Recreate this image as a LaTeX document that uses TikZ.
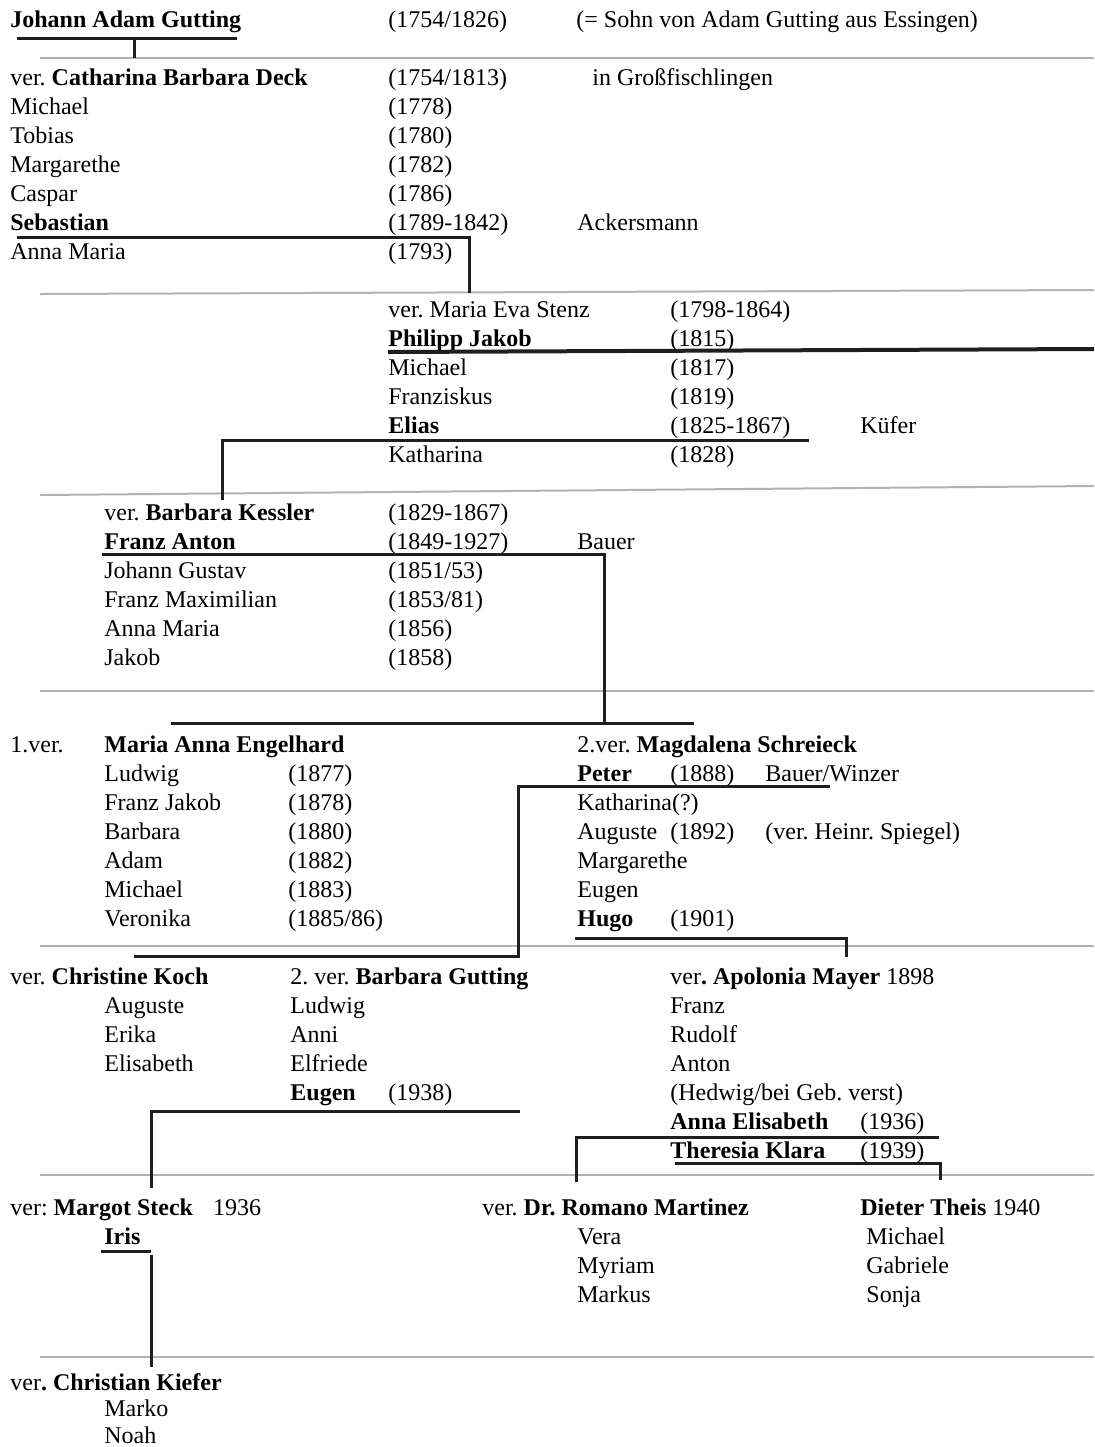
\documentclass[tikz,border=0pt]{standalone}
\usepackage{fontspec}
\setmainfont{Liberation Serif}
\frenchspacing

\tikzset{
  txt/.style={anchor=base west, inner sep=0pt},
  kin/.style={line width=1.5pt, black!88},
  rule/.style={line width=1pt, black!30},
}

\begin{document}
\begin{tikzpicture}[x=0.5pt, y=-0.5pt, font=\fontsize{12}{14}\selectfont]
  \useasboundingbox (0,0) rectangle (1094,1447);

  % generation rules
  \draw[rule] (40,58) -- (1094,58);
  \draw[rule] (40,294) -- (1094,290);
  \draw[rule] (40,495) -- (1094,486);
  \draw[rule] (40,691) -- (1094,691);
  \draw[rule] (40,946) -- (1094,946);
  \draw[rule] (40,1175) -- (1094,1175);
  \draw[rule] (40,1357) -- (1094,1357);

  % Johann Adam
  \node[txt] (johann) at (10,27) {\textbf{Johann Adam Gutting}};
  \node[txt] (johann-y) at (388,27) {(1754/1826)};
  \node[txt] (johann-note) at (576,27) {(= Sohn von Adam Gutting aus Essingen)};

  \node[txt] (deck) at (10,85) {ver. \textbf{Catharina Barbara Deck}};
  \node[txt] (deck-y) at (388,85) {(1754/1813)};
  \node[txt] (deck-note) at (592,85) {in Großfischlingen};
  \foreach \n/\y [count=\i] in {Michael/(1778), Tobias/(1780), Margarethe/(1782),
      Caspar/(1786), \textbf{Sebastian}/(1789-1842), Anna Maria/(1793)} {
    \node[txt] (deck-k\i) at (10,{85+29*\i}) {\n};
    \node[txt] (deck-y\i) at (388,{85+29*\i}) {\y};
  }
  \node[txt] (seb-note) at (577,230) {Ackersmann};

  % Sebastian
  \node[txt] (stenz) at (388,317) {ver. Maria Eva Stenz};
  \node[txt] (stenz-y) at (670,317) {(1798-1864)};
  \foreach \n/\y [count=\i] in {\textbf{Philipp Jakob}/(1815), Michael/(1817),
      Franziskus/(1819), \textbf{Elias}/(1825-1867), Katharina/(1828)} {
    \node[txt] (stenz-k\i) at (388,{317+29*\i}) {\n};
    \node[txt] (stenz-y\i) at (670,{317+29*\i}) {\y};
  }
  \node[txt] (eli-note) at (860,433) {Küfer};

  % Elias
  \node[txt] (kessler) at (104,520) {ver. \textbf{Barbara Kessler}};
  \node[txt] (kessler-y) at (388,520) {(1829-1867)};
  \foreach \n/\y [count=\i] in {\textbf{Franz Anton}/(1849-1927), Johann Gustav/{(1851/53)},
      Franz Maximilian/{(1853/81)}, Anna Maria/(1856), Jakob/(1858)} {
    \node[txt] (kessler-k\i) at (104,{520+29*\i}) {\n};
    \node[txt] (kessler-y\i) at (388,{520+29*\i}) {\y};
  }
  \node[txt] (fa-note) at (577,549) {Bauer};

  % Franz Anton, first marriage
  \node[txt] (engel-nr) at (10,752) {1.ver.};
  \node[txt] (engel) at (104,752) {\textbf{Maria Anna Engelhard}};
  \foreach \n/\y [count=\i] in {Ludwig/(1877), Franz Jakob/(1878), Barbara/(1880),
      Adam/(1882), Michael/(1883), Veronika/{(1885/86)}} {
    \node[txt] (engel-k\i) at (104,{752+29*\i}) {\n};
    \node[txt] (engel-y\i) at (288,{752+29*\i}) {\y};
  }

  % Franz Anton, second marriage
  \node[txt] (schr) at (577,752) {2.ver. \textbf{Magdalena Schreieck}};
  \foreach \n [count=\i] in {\textbf{Peter}, Katharina(?), Auguste, Margarethe, Eugen,
      \textbf{Hugo}} {
    \node[txt] (schr-k\i) at (577,{752+29*\i}) {\n};
  }
  \node[txt] (schr-y1) at (670,781) {(1888)};
  \node[txt] (pet-note) at (765,781) {Bauer/Winzer};
  \node[txt] (schr-y3) at (670,839) {(1892)};
  \node[txt] (aug-note) at (765,839) {(ver. Heinr. Spiegel)};
  \node[txt] (schr-y6) at (670,926) {(1901)};

  % Peter
  \node[txt] (koch) at (10,984) {ver. \textbf{Christine Koch}};
  \foreach \n [count=\i] in {Auguste, Erika, Elisabeth}
    \node[txt] (koch-k\i) at (104,{984+29*\i}) {\n};
  \node[txt] (bgut) at (290,984) {2. ver. \textbf{Barbara Gutting}};
  \foreach \n [count=\i] in {Ludwig, Anni, Elfriede, \textbf{Eugen}}
    \node[txt] (bgut-k\i) at (290,{984+29*\i}) {\n};
  \node[txt] (bgut-y4) at (388,1100) {(1938)};

  % Hugo
  \node[txt] (mayer) at (670,984) {ver\textbf{. Apolonia Mayer} 1898};
  \foreach \n [count=\i] in {Franz, Rudolf, Anton, {(Hedwig/bei Geb. verst)},
      \textbf{Anna Elisabeth}, \textbf{Theresia Klara}}
    \node[txt] (mayer-k\i) at (670,{984+29*\i}) {\n};
  \node[txt] (mayer-y5) at (860,1129) {(1936)};
  \node[txt] (mayer-y6) at (860,1158) {(1939)};

  % Eugen, Anna Elisabeth, Theresia Klara
  \node[txt] (steck) at (10,1215) {ver: \textbf{Margot Steck}\hspace{10pt}1936};
  \node[txt] (steck-k1) at (104,1244) {\textbf{Iris}};
  \node[txt] (mart) at (482,1215) {ver. \textbf{Dr. Romano Martinez}};
  \foreach \n [count=\i] in {Vera, Myriam, Markus}
    \node[txt] (mart-k\i) at (577,{1215+29*\i}) {\n};
  \node[txt] (theis) at (860,1215) {\textbf{Dieter Theis} 1940};
  \foreach \n [count=\i] in {Michael, Gabriele, Sonja}
    \node[txt] (theis-k\i) at (866,{1215+29*\i}) {\n};

  % Iris
  \node[txt] (kiefer) at (10,1390) {ver\textbf{. Christian Kiefer}};
  \foreach \n [count=\i] in {Marko, Noah}
    \node[txt] (kiefer-k\i) at (104,{1389+27*\i}) {\n};

  % descent lines
  \coordinate (jag-l) at (17,38);   \coordinate (jag-r) at (237,38);
  \coordinate (jag-t) at (134,38);  \coordinate (jag-d) at (134,58);
  \coordinate (seb-l) at (17,237);  \coordinate (seb-d) at (469,293);
  \coordinate (phj-l) at (388,352); \coordinate (phj-r) at (1094,349);
  \coordinate (eli-r) at (809,440); \coordinate (eli-d) at (222,500);
  \coordinate (fa-l) at (102,554);  \coordinate (fa-d) at (604,723);
  \coordinate (ma-l) at (171,723);  \coordinate (ma-r) at (694,723);
  \coordinate (pet-r) at (830,786); \coordinate (pet-d) at (518,956);
  \coordinate (koch-l) at (134,956);
  \coordinate (hugo-l) at (575,938); \coordinate (hugo-d) at (846,957);
  \coordinate (eug-r) at (520,1111); \coordinate (eug-d) at (151,1188);
  \coordinate (ael-r) at (939,1137); \coordinate (ael-d) at (576,1182);
  \coordinate (tkl-l) at (675,1163); \coordinate (tkl-d) at (940,1180);
  \coordinate (iris-l) at (101,1251); \coordinate (iris-r) at (151,1251);
  \coordinate (iris-t) at (151,1255); \coordinate (iris-d) at (151,1367);

  \draw[kin] (jag-l) -- (jag-r) (jag-t) -- (jag-d);
  \draw[kin] (seb-l) -| (seb-d);
  \draw[kin, line width=2pt] (phj-l) -- (phj-r);
  \draw[kin] (eli-r) -| (eli-d);
  \draw[kin] (fa-l) -| (fa-d);
  \draw[kin] (ma-l) -- (ma-r);
  \draw[kin] (pet-r) -| (pet-d) -- (koch-l);
  \draw[kin] (hugo-l) -| (hugo-d);
  \draw[kin] (eug-r) -| (eug-d);
  \draw[kin] (ael-r) -| (ael-d);
  \draw[kin] (tkl-l) -| (tkl-d);
  \draw[kin] (iris-l) -- (iris-r) (iris-t) -- (iris-d);
\end{tikzpicture}
\end{document}
